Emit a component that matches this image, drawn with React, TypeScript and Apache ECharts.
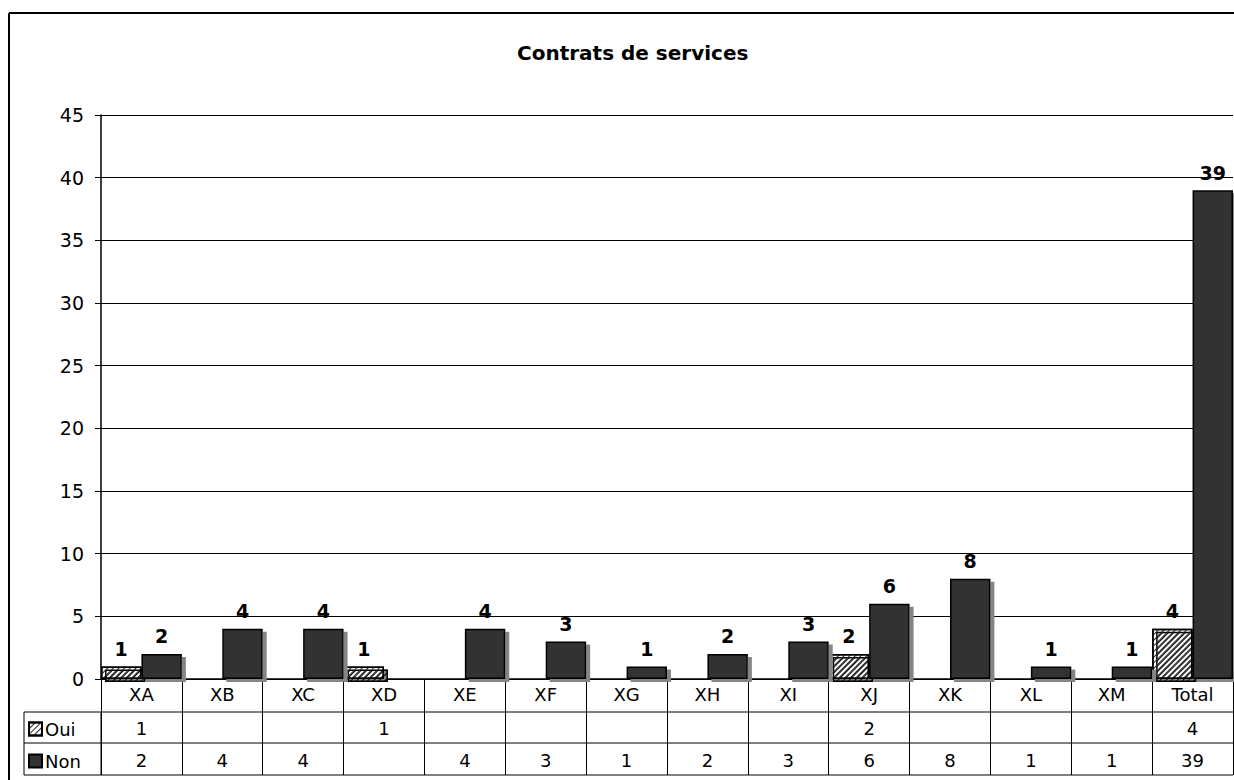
import React, { useEffect, useRef } from "react";
import * as echarts from "echarts";

const categories = ["XA", "XB", "XC", "XD", "XE", "XF", "XG", "XH", "XI", "XJ", "XK", "XL", "XM", "Total"];
const ouiValues: (number | null)[] = [1, null, null, 1, null, null, null, null, null, 2, null, null, null, 4];
const nonValues: (number | null)[] = [2, 4, 4, null, 4, 3, 1, 2, 3, 6, 8, 1, 1, 39];
const seriesNames = ["Oui", "Non"];
const titleText = "Contrats de services";

const FONT = "DejaVu Sans";
const GRID_LEFT = 101;
const GRID_TOP = 115;
const GRID_RIGHT_X = 1233;
const ZERO_Y = 679;
const ROW1_Y = 712;
const ROW2_Y = 743;
const ROW3_Y = 775;
const LEG_X = 24;

const hatch = {
  symbol: "rect",
  symbolSize: 1,
  dashArrayX: [1, 0],
  dashArrayY: [0.9, 2.9],
  rotation: -Math.PI / 4,
  color: "#222",
  backgroundColor: "#fff",
};

export default function App() {
  const ref = useRef<HTMLDivElement>(null);
  useEffect(() => {
    if (!ref.current) return;
    const chart = echarts.init(ref.current, null, { renderer: "svg" });
    const labelStyle = {
      show: true,
      position: "top" as const,
      distance: 8,
      fontFamily: FONT,
      fontWeight: "bold" as const,
      fontSize: 19,
      color: "#000",
    };
    const shadow = {
      shadowColor: "#858585",
      shadowBlur: 0,
      shadowOffsetX: 4,
      shadowOffsetY: 3,
    };
    const legendBase = {
      left: LEG_X + 4,
      icon: "rect",
      itemWidth: 13,
      itemHeight: 13,
      itemGap: 4,
      padding: 0,
      textStyle: { fontFamily: FONT, fontSize: 18, color: "#000", padding: [0, 0, 0, -2] },
    };
    chart.setOption({
      animation: false,
      backgroundColor: "#fff",
      textStyle: { fontFamily: FONT },
      title: {
        text: titleText,
        left: 512,
        top: 38,
        textStyle: { fontFamily: FONT, fontSize: 20, fontWeight: "bold", color: "#000" },
      },
      legend: [
        { ...legendBase, data: [seriesNames[0]], top: ROW1_Y + 8 },
        { ...legendBase, data: [seriesNames[1]], top: ROW2_Y + 9 },
      ],
      grid: {
        left: GRID_LEFT,
        top: GRID_TOP,
        right: 1234 - GRID_RIGHT_X,
        bottom: 780 - ZERO_Y,
        containLabel: false,
      },
      xAxis: {
        type: "category",
        data: categories,
        axisLine: { show: true, lineStyle: { color: "#000", width: 1.5 } },
        axisTick: { show: true, length: ROW3_Y - ZERO_Y, lineStyle: { color: "#000", width: 1 } },
        axisLabel: { fontFamily: FONT, fontSize: 18, color: "#000", margin: 6 },
      },
      yAxis: {
        type: "value",
        min: 0,
        max: 45,
        interval: 5,
        axisLine: { show: true, lineStyle: { color: "#000", width: 1.5 } },
        axisTick: { show: true, length: 6, lineStyle: { color: "#000" } },
        axisLabel: { fontFamily: FONT, fontSize: 19, color: "#000", margin: 17 },
        splitLine: { show: true, lineStyle: { color: "#000", width: 1 } },
      },
      series: [
        {
          name: seriesNames[0],
          type: "bar",
          data: ouiValues,
          barGap: "0%",
          barCategoryGap: "0%",
          itemStyle: { color: "#fff", borderColor: "#000", borderWidth: 1.5, decal: hatch, ...shadow },
          label: labelStyle,
        },
        {
          name: seriesNames[1],
          type: "bar",
          data: nonValues,
          barGap: "0%",
          barCategoryGap: "0%",
          itemStyle: { color: "#333333", borderColor: "#000", borderWidth: 1.5, ...shadow },
          label: labelStyle,
        },
      ],
    });

    const g: any[] = [];
    const line = (x1: number, y1: number, x2: number, y2: number, w: number) =>
      g.push({ type: "line", silent: true, shape: { x1, y1, x2, y2 }, style: { stroke: "#000", lineWidth: w } });
    line(9, 13, 1234, 13, 2);
    line(9, 13, 9, 780, 2);
    line(LEG_X, ROW1_Y, GRID_RIGHT_X, ROW1_Y, 1);
    line(LEG_X, ROW2_Y, GRID_RIGHT_X, ROW2_Y, 1);
    line(LEG_X, ROW3_Y, GRID_RIGHT_X, ROW3_Y, 1);
    line(LEG_X, ROW1_Y, LEG_X, ROW3_Y, 1);
    line(GRID_LEFT, ROW1_Y, GRID_LEFT, ROW3_Y, 1);
    categories.forEach((c, i) => {
      const x = chart.convertToPixel({ xAxisIndex: 0 }, c) as number;
      const rows: [(number | null)[], number][] = [
        [ouiValues, (ROW1_Y + ROW2_Y) / 2 + 1],
        [nonValues, (ROW2_Y + ROW3_Y) / 2 + 1],
      ];
      rows.forEach(([arr, y]) => {
        const v = arr[i];
        if (v == null) return;
        g.push({
          type: "text",
          x,
          y,
          style: {
            text: String(v),
            fontFamily: FONT,
            fontSize: 18,
            fill: "#000",
            align: "center",
            verticalAlign: "middle",
          },
        });
      });
    });
    chart.setOption({ graphic: g });
    return () => chart.dispose();
  }, []);
  return <div ref={ref} style={{ position: "absolute", left: 0, top: 0, width: 1234, height: 780 }} />;
}
